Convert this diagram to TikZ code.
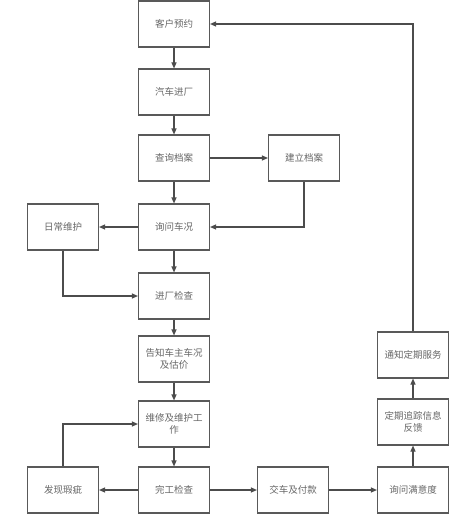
\documentclass[tikz,border=0pt]{standalone}
\usepackage{fontspec}
\newfontfamily\cjk{Noto Sans CJK SC}
\usetikzlibrary{arrows.meta}
\begin{document}
\begin{tikzpicture}[x=1pt,y=-1pt,
  box/.style={draw=black!65,line width=1.1pt,minimum width=71pt,minimum height=46pt,inner sep=1pt,align=center,font=\cjk\fontsize{9.5}{12.5}\selectfont,text=black!60},
  link/.style={draw=black!70,line width=1.1pt,-{Triangle[length=6pt,width=5pt]}}]
\useasboundingbox (0,0) rectangle (467,519);
\node[box] (a) at (174,24) {客户预约};
\node[box] (b) at (174,92) {汽车进厂};
\node[box] (c) at (174,158) {查询档案};
\node[box] (d) at (304,158) {建立档案};
\node[box] (e) at (174,227) {询问车况};
\node[box] (f) at (63,227) {日常维护};
\node[box] (g) at (174,296) {进厂检查};
\node[box] (h) at (174,359) {告知车主车况\\及估价};
\node[box] (i) at (174,424) {维修及维护工\\作};
\node[box] (j) at (174,490) {完工检查};
\node[box] (k) at (63,490) {发现瑕疵};
\node[box] (l) at (293,490) {交车及付款};
\node[box] (m) at (413,490) {询问满意度};
\node[box] (n) at (413,422) {定期追踪信息\\反馈};
\node[box] (o) at (413,355) {通知定期服务};
\draw[link] (a) -- (b);
\draw[link] (b) -- (c);
\draw[link] (c) -- (d);
\draw[link] (c) -- (e);
\draw[link] (d.south) |- (e.east);
\draw[link] (e) -- (f);
\draw[link] (f.south) |- (g.west);
\draw[link] (e) -- (g);
\draw[link] (g) -- (h);
\draw[link] (h) -- (i);
\draw[link] (i) -- (j);
\draw[link] (j) -- (k);
\draw[link] (k.north) |- (i.west);
\draw[link] (j) -- (l);
\draw[link] (l) -- (m);
\draw[link] (m) -- (n);
\draw[link] (n) -- (o);
\draw[link] (o.north) |- (a.east);
\end{tikzpicture}
\end{document}
